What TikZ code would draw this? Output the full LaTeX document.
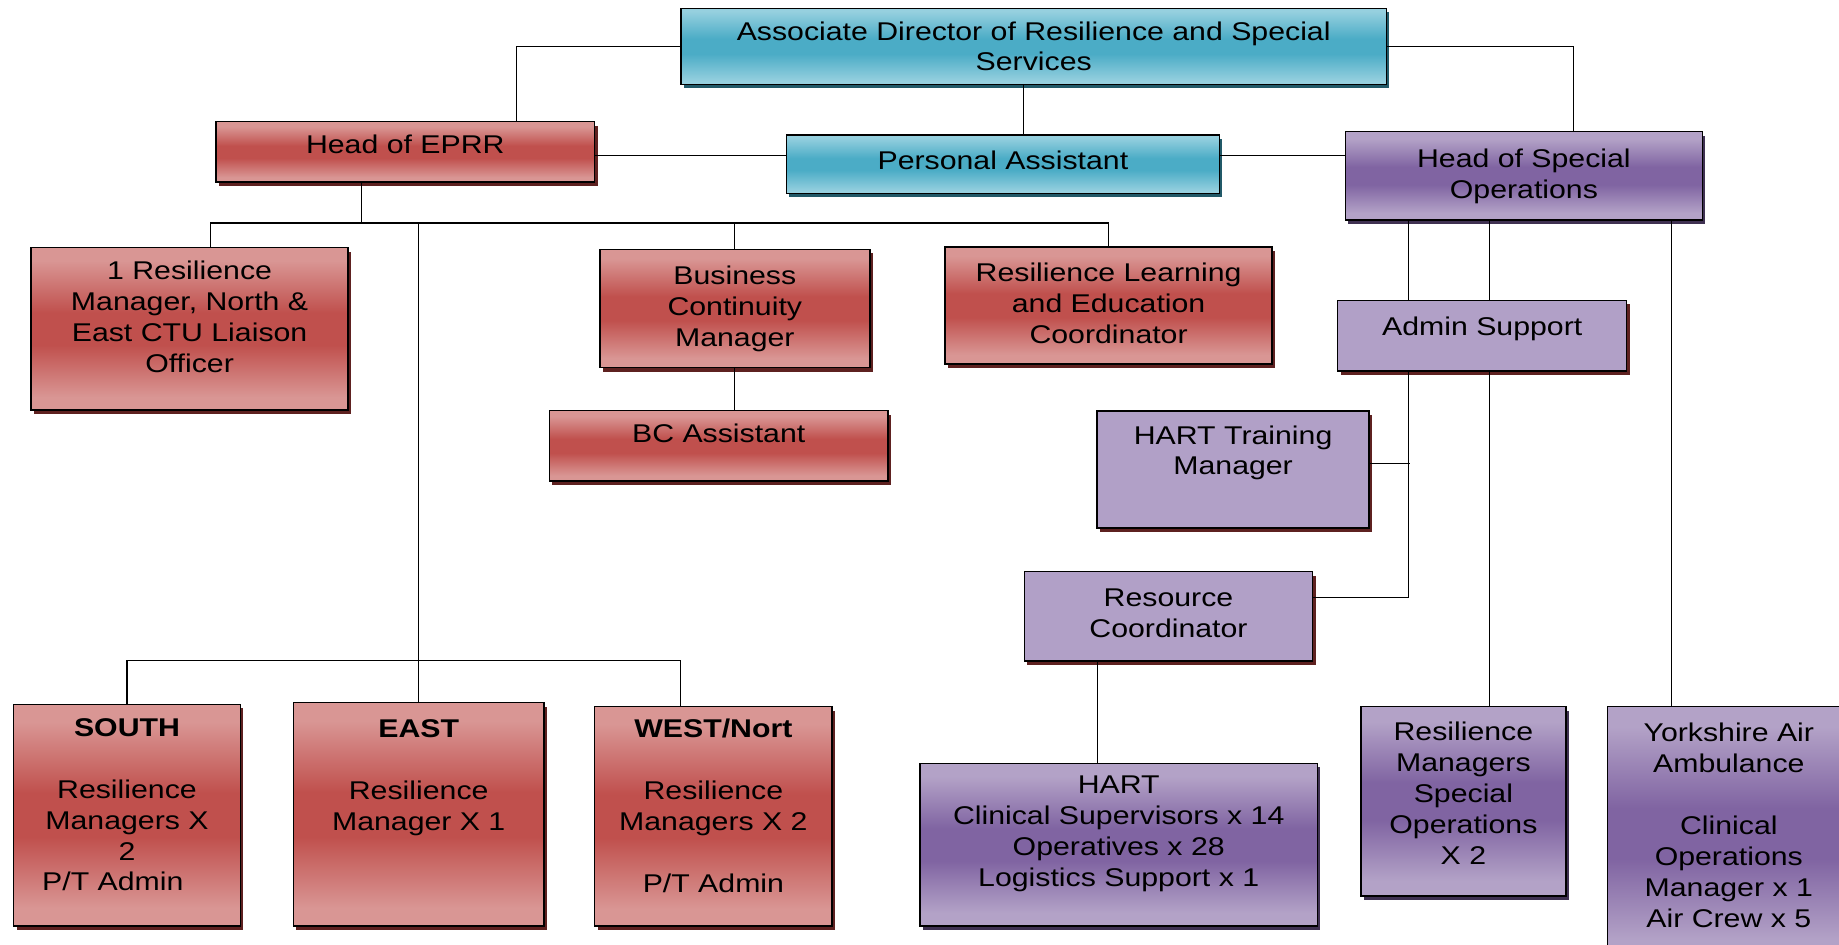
\documentclass[tikz,border=0pt]{standalone}
\usepackage{fontspec}
\setmainfont{Liberation Sans}[FakeStretch=1.18]
\usetikzlibrary{shadows}

\definecolor{redlt}{HTML}{D99694}
\definecolor{redmd}{HTML}{C0504D}
\definecolor{redsh}{HTML}{5E2120}
\definecolor{cyanlt}{HTML}{96D0DF}
\definecolor{cyanmd}{HTML}{4BACC6}
\definecolor{cyansh}{HTML}{215968}
\definecolor{purlt}{HTML}{B3A2C7}
\definecolor{purmd}{HTML}{8064A2}
\definecolor{pursh}{HTML}{3F3151}
\definecolor{lilac}{HTML}{B1A0C7}

\pgfdeclareverticalshading{redband}{100bp}{color(0bp)=(redlt); color(29bp)=(redlt); color(45bp)=(redmd); color(55bp)=(redmd); color(71bp)=(redlt); color(100bp)=(redlt)}
\pgfdeclareverticalshading{cyanband}{100bp}{color(0bp)=(cyanlt); color(27bp)=(cyanlt); color(45bp)=(cyanmd); color(55bp)=(cyanmd); color(73bp)=(cyanlt); color(100bp)=(cyanlt)}
\pgfdeclareverticalshading{purband}{100bp}{color(0bp)=(purlt); color(29bp)=(purlt); color(45bp)=(purmd); color(55bp)=(purmd); color(71bp)=(purlt); color(100bp)=(purlt)}

\tikzset{
  bx/.style={rectangle, draw=black, line width=0.85pt, align=center, inner sep=2pt, font=\fontsize{14.6}{17.6}\selectfont},
  redbx/.style={bx, shade, shading=redband, general shadow={fill=redsh, shadow xshift=0.06cm, shadow yshift=-0.08cm}},
  cyanbx/.style={bx, shade, shading=cyanband, general shadow={fill=cyansh, shadow xshift=0.06cm, shadow yshift=-0.08cm}},
  purbx/.style={bx, shade, shading=purband, general shadow={fill=pursh, shadow xshift=0.06cm, shadow yshift=-0.08cm}},
  lilbx/.style={bx, fill=lilac, general shadow={fill=redsh, shadow xshift=0.06cm, shadow yshift=-0.08cm}}
}

\begin{document}
\begin{tikzpicture}[x=0.02cm, y=-0.02cm, line width=0.6pt]
	\useasboundingbox (0,0) rectangle (1839,945);
	\clip (0,0) rectangle (1839,945);

	\node[cyanbx, minimum width=14.11cm, minimum height=1.52cm] (assoc) at (1033.7,46.3) {Associate Director of Resilience and Special\\Services};
	\node[redbx, minimum width=7.57cm, minimum height=1.21cm, text depth=9pt] (eprr) at (405.3,152) {Head of EPRR};
	\node[cyanbx, minimum width=8.66cm, minimum height=1.17cm, text depth=4pt] (pa) at (1002.9,164.2) {Personal Assistant};
	\node[purbx, minimum width=7.14cm, minimum height=1.77cm, text depth=3pt] (hso) at (1523.9,175.9) {Head of Special\\Operations};

	\node[redbx, minimum width=6.34cm, minimum height=3.25cm, text depth=14pt] (res1) at (189.6,328.9) {1 Resilience\\Manager, North \&\\East CTU Liaison\\Officer};
	\node[redbx, minimum width=5.4cm, minimum height=2.37cm] (bcm) at (734.8,308.5) {Business\\Continuity\\Manager};
	\node[redbx, minimum width=6.54cm, minimum height=2.35cm, text depth=3pt] (rlec) at (1108.6,305.5) {Resilience Learning\\and Education\\Coordinator};
	\node[redbx, minimum width=6.77cm, minimum height=1.41cm, text depth=14pt] (bca) at (718.7,445.9) {BC Assistant};

	\node[lilbx, minimum width=5.78cm, minimum height=1.41cm, text depth=11pt] (adm) at (1482.2,335.7) {Admin Support};
	\node[lilbx, minimum width=5.44cm, minimum height=2.35cm, text depth=22pt] (htm) at (1233.1,469.5) {HART Training\\Manager};
	\node[lilbx, minimum width=5.77cm, minimum height=1.79cm, text depth=4pt] (rco) at (1168.5,616.4) {Resource\\Coordinator};

	\node[redbx, minimum width=4.54cm, minimum height=4.43cm, text depth=12pt] (south) at (127,815.2) {\textbf{SOUTH}\\~\\Resilience\\Managers X\\2\\P/T Admin\hspace*{1.1em}};
	\node[redbx, minimum width=5.01cm, minimum height=4.47cm, text depth=9.5pt] (east) at (418.7,814.4) {\textbf{EAST}\\~\\Resilience\\Manager X 1\\~\\~};
	\node[redbx, minimum width=4.75cm, minimum height=4.39cm, text depth=12pt] (west) at (713.4,816.4) {\textbf{WEST/Nort}\\~\\Resilience\\Managers X 2\\~\\P/T Admin};

	\node[purbx, minimum width=7.95cm, minimum height=3.25cm, text depth=15pt] (hart) at (1118.7,844.7) {HART\\Clinical Supervisors x 14\\Operatives x 28\\Logistics Support x 1};
	\node[purbx, minimum width=4.1cm, minimum height=3.79cm, text depth=9.5pt] (rmso) at (1463.4,801.4) {Resilience\\Managers\\Special\\Operations\\X 2};
	\node[purbx, minimum width=4.85cm, minimum height=5.07cm, text depth=9.5pt] (yaa) at (1728.8,833.4) {Yorkshire Air\\Ambulance\\~\\Clinical\\Operations\\Manager x 1\\Air Crew x 5};

	% top level
	\draw (assoc.west) -| ([xshift=2.22cm]eprr.north);
	\draw (assoc.east) -| ([xshift=0.99cm]hso.north);
	\draw ([xshift=-0.2cm]assoc.south) -- ([xshift=-0.2cm]assoc.south |- pa.north);
	\draw ([yshift=-0.065cm]eprr.east) -- ([yshift=-0.065cm]eprr.east -| pa.west);
	\draw ([yshift=0.18cm]pa.east) -- ([yshift=0.18cm]pa.east -| hso.west);

	% EPRR side
	\draw ([xshift=-0.87cm]eprr.south) -- ++(0,40) coordinate (bus1);
	\draw ([xshift=0.41cm]res1.north) |- (bus1) -| (rlec.north);
	\draw (bcm.north) -- (bcm.north |- bus1);
	\draw (bus1 -| east.north) -- (east.north);
	\draw (bcm.south) -- (bcm.south |- bca.north);
	\draw (south.north) -- ++(0,-43) -| ([xshift=-0.65cm]west.north);

	% special operations side
	\draw ([xshift=-2.3cm]hso.south) -- ([xshift=-2.3cm]hso.south |- adm.north);
	\draw ([xshift=-0.69cm]hso.south) -- ([xshift=-0.69cm]hso.south |- adm.north);
	\draw ([xshift=2.96cm]hso.south) -- ([xshift=2.96cm]hso.south |- yaa.north);
	\draw ([xshift=-1.47cm]adm.south) |- ([yshift=0.38cm]rco.east);
	\draw ([yshift=0.12cm]htm.east) -- ++(39.8,0);
	\draw ([xshift=0.14cm]adm.south) -- ([xshift=0.14cm]adm.south |- rmso.north);
	\draw ([xshift=-1.43cm]rco.south) -- ([xshift=-1.43cm]rco.south |- hart.north);
\end{tikzpicture}
\end{document}
